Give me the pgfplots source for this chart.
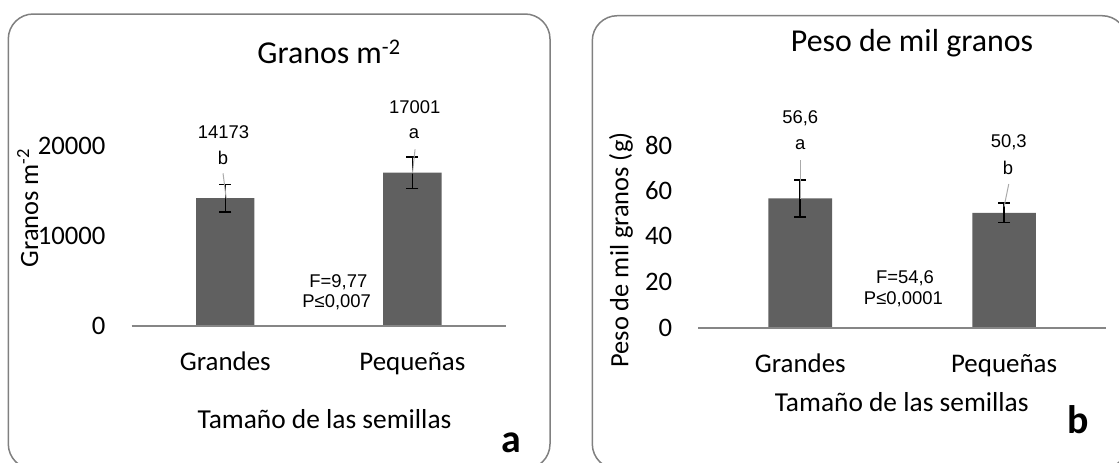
\documentclass[border=0pt]{standalone}
\usepackage{pgfplots}
\pgfplotsset{compat=1.18}
\usepackage{fontspec}
\setmainfont{Carlito}
\newfontfamily\arial{Liberation Sans}
\definecolor{barc}{RGB}{96,96,96}
\definecolor{axc}{RGB}{134,134,134}
\definecolor{bordc}{RGB}{128,128,128}
\definecolor{leadc}{RGB}{170,170,170}
\pgfplotsset{
  panel/.style={
    scale only axis, anchor=south west,
    xmin=-0.5, xmax=1.5, ymin=0,
    scaled y ticks=false,
    axis line style={draw=none},
    major tick length=0pt,
    xtick={0,1}, xticklabels={Grandes,Pequeñas},
    xticklabel style={anchor=base, inner sep=0pt, yshift=-44.3bp, font=\fontsize{27}{31}\selectfont},
    yticklabel style={anchor=east, inner sep=0pt, xshift=-26bp, font=\fontsize{26.8}{31}\selectfont},
    ybar, bar width=0.312, clip=false,
  },
}
\tikzset{dl/.style={font=\arial\fontsize{18.5}{22}\selectfont, inner sep=0pt, anchor=center}}
\begin{document}
\begin{tikzpicture}
\useasboundingbox (0,0) rectangle (1119bp,-463bp);
\draw[bordc, line width=1.5bp, rounded corners=25bp] (8.3bp,-14bp) rectangle (550bp,-469bp);
\draw[bordc, line width=1.5bp, rounded corners=25bp] (592.3bp,-15.7bp) rectangle (1127bp,-469bp);

% ---------- panel a
\begin{axis}[panel, at={(131.7bp,-325.7bp)}, width=374.3bp, height=225bp, ymax=25000,
  ytick={0,10000,20000}, yticklabels={0,10000,20000}]
\addplot+[ybar, fill=barc, draw=none, mark=none,
  error bars/.cd, y dir=both, y explicit,
  error bar style={black, line width=1.5bp},
  error mark options={rotate=90, mark size=6bp, line width=1.5bp, black}]
  coordinates {(0,14173) +- (0,1540) (1,17001) +- (0,1740)};
\draw[axc, line width=2bp] (axis cs:-0.5,0) -- (axis cs:1.5,0);
\draw[leadc, line width=1bp] (axis cs:-0.012,16933) -- (axis cs:0.005,14156);
\draw[leadc, line width=1bp] (axis cs:1.014,19600) -- (axis cs:1.0,16933);
\node[dl] at (axis cs:-0.01,21556) {14173};
\node[dl] at (axis cs:-0.012,18600) {b};
\node[dl] at (axis cs:1.012,24300) {17001};
\node[dl] at (axis cs:1.009,21378) {a};
\node[dl] at (axis cs:0.604,4822) {F=9,77};
\node[dl] at (axis cs:0.595,2600) {P≤0,007};
\end{axis}

% ---------- panel b
\begin{axis}[panel, at={(698.3bp,-327.7bp)}, width=407.7bp, height=228.4bp, ymax=100,
  ytick={0,20,40,60,80}, yticklabels={0,20,40,60,80}]
\addplot+[ybar, fill=barc, draw=none, mark=none,
  error bars/.cd, y dir=both, y explicit,
  error bar style={black, line width=1.5bp},
  error mark options={rotate=90, mark size=6bp, line width=1.5bp, black}]
  coordinates {(0,56.6) +- (0,8.1) (1,50.3) +- (0,4.2)};
\draw[axc, line width=2bp] (axis cs:-0.5,0) -- (axis cs:1.5,0);
\draw[leadc, line width=1bp] (axis cs:0,73.4) -- (axis cs:0,56.3);
\draw[leadc, line width=1bp] (axis cs:1.023,62.9) -- (axis cs:1.0,53.0);
\node[dl] at (axis cs:0,91.8) {56,6};
\node[dl] at (axis cs:0,80.0) {a};
\node[dl] at (axis cs:1.023,81.4) {50,3};
\node[dl] at (axis cs:1.019,69.8) {b};
\node[dl] at (axis cs:0.514,21.6) {F=54,6};
\node[dl] at (axis cs:0.506,12.6) {P≤0,0001};
\end{axis}

% ---------- texts
\node[anchor=base, inner sep=0pt, font=\fontsize{32}{36}\selectfont] at (329bp,-63.3bp) {Granos m\textsuperscript{-2}};
\node[anchor=base, inner sep=0pt, font=\fontsize{32}{36}\selectfont] at (912bp,-51bp) {Peso de mil granos};
\node[anchor=base, inner sep=0pt, font=\fontsize{27.5}{31}\selectfont] at (324.5bp,-428bp) {Tamaño de las semillas};
\node[anchor=base, inner sep=0pt, font=\fontsize{27.5}{31}\selectfont] at (901.7bp,-411.7bp) {Tamaño de las semillas};
\node[anchor=base, inner sep=0pt, rotate=90, font=\fontsize{26.5}{30}\selectfont] at (38bp,-208bp) {Granos m\textsuperscript{-2}};
\node[anchor=base, inner sep=0pt, rotate=90, font=\fontsize{26.5}{30}\selectfont] at (628.3bp,-250bp) {Peso de mil granos (g)};
\node[anchor=base, inner sep=0pt, font=\bfseries\fontsize{40}{44}\selectfont] at (511.7bp,-452bp) {a};
\node[anchor=base, inner sep=0pt, font=\bfseries\fontsize{40}{44}\selectfont] at (1078bp,-433bp) {b};
\end{tikzpicture}
\end{document}
